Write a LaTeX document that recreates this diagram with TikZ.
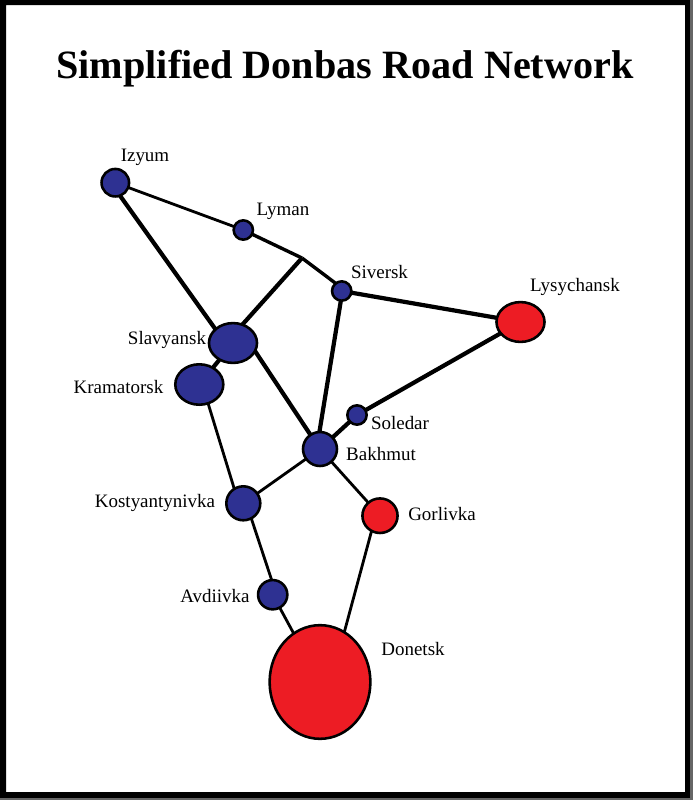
\documentclass[tikz,border=0pt]{standalone}
\usepackage{fontspec}
\setmainfont{Liberation Serif}
\usetikzlibrary{shapes.geometric}
\definecolor{cityblue}{HTML}{2E3192}
\definecolor{cityred}{HTML}{ED1C24}

\begin{document}
\begin{tikzpicture}[
  x=0.03cm,y=-0.03cm,
  city/.style={ellipse,draw=black,line width=2.2pt,inner sep=0pt,outer sep=0pt},  bcity/.style={city,fill=cityblue},  rcity/.style={city,fill=cityred},  road/.style={line width=2.4pt},  midroad/.style={line width=2.9pt},  mainroad/.style={line width=3.6pt},  lbl/.style={font=\fontsize{16.2}{18}\selectfont,inner sep=0pt,anchor=base}
]
  \useasboundingbox (0,0) rectangle (693,800);
  \fill[black,even odd rule] (0,0) rectangle (693,800) (6,5) rectangle (685,792);
  \fill[black!60] (690,0) rectangle (693,800);
  \fill[black!60] (0,798) rectangle (693,800);
  \node[font=\fontsize{34.3}{38}\selectfont\bfseries,inner sep=0pt,anchor=base] (title) at (345,78) {Simplified Donbas Road Network};
  \node[bcity,minimum width=23.5pt,minimum height=23.5pt] at (115.3,182.7) (izyum) {};
  \node[bcity,minimum width=16.5pt,minimum height=16.5pt] at (243.3,230) (lyman) {};
  \node[bcity,minimum width=16.5pt,minimum height=16.5pt] at (341.7,291) (siversk) {};
  \node[rcity,minimum width=41pt,minimum height=34pt] at (520.5,322) (lysychansk) {};
  \node[bcity,minimum width=41pt,minimum height=34pt] at (233,343) (slavyansk) {};
  \node[bcity,minimum width=41pt,minimum height=34.5pt] at (199.3,384.5) (kramatorsk) {};
  \node[bcity,minimum width=16.5pt,minimum height=16.5pt] at (357,415) (soledar) {};
  \node[bcity,minimum width=29pt,minimum height=29pt] at (320,449) (bakhmut) {};
  \node[bcity,minimum width=29pt,minimum height=29pt] at (243.3,503.3) (kostyantynivka) {};
  \node[rcity,minimum width=30pt,minimum height=29.5pt] at (380,515.7) (gorlivka) {};
  \node[bcity,minimum width=25pt,minimum height=25pt] at (272.7,594.7) (avdiivka) {};
  \node[rcity,minimum width=86pt,minimum height=97pt] at (320,682) (donetsk) {};
  \coordinate (fork) at (302,258);
  \draw[road] (izyum) -- (lyman);
  \draw[mainroad] (izyum.290) -- (slavyansk.142);
  \draw[midroad] (lyman) -- (fork);
  \draw[midroad] (fork) -- (siversk.128);
  \draw[mainroad] (fork) -- (slavyansk.63);
  \draw[mainroad] (siversk) -- (lysychansk.170);
  \draw[mainroad] (siversk.265) -- (bakhmut.92);
  \draw[mainroad] (slavyansk) -- (kramatorsk);
  \draw[mainroad] (slavyansk.340) -- (bakhmut.124);
  \draw[mainroad] (lysychansk) -- (soledar);
  \draw[mainroad] (soledar) -- (bakhmut);
  \draw[road] (kramatorsk.295) -- (kostyantynivka.122);
  \draw[road] (kostyantynivka) -- (bakhmut);
  \draw[road] (bakhmut) -- (gorlivka);
  \draw[road] (gorlivka.241) -- (donetsk.64);
  \draw[road] (kostyantynivka.298) -- (avdiivka.94);
  \draw[road] (avdiivka) -- (donetsk);
  \node[lbl] (lizyum) at (145,161) {Izyum};
  \node[lbl] (llyman) at (283,215) {Lyman};
  \node[lbl] (lsiversk) at (379.5,278) {Siversk};
  \node[lbl] (llysychansk) at (575,291) {Lysychansk};
  \node[lbl] (lslavyansk) at (167,344) {Slavyansk};
  \node[lbl] (lkramatorsk) at (118.5,393) {Kramatorsk};
  \node[lbl] (lsoledar) at (400,429) {Soledar};
  \node[lbl] (lbakhmut) at (381,460) {Bakhmut};
  \node[lbl] (lkostyantynivka) at (155,507) {Kostyantynivka};
  \node[lbl] (lgorlivka) at (442,520) {Gorlivka};
  \node[lbl] (lavdiivka) at (215,602) {Avdiivka};
  \node[lbl] (ldonetsk) at (413,655) {Donetsk};
\end{tikzpicture}
\end{document}
